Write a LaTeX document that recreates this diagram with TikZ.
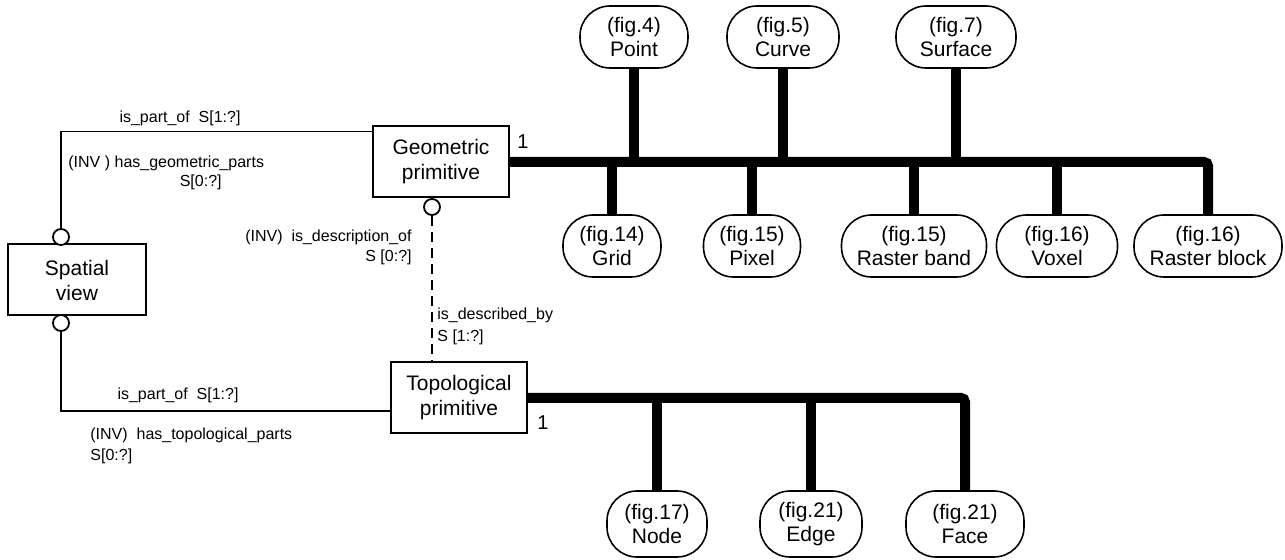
\documentclass[tikz,border=0pt]{standalone}
\usepackage{fontspec}
\setmainfont{Liberation Sans}
\usetikzlibrary{positioning}

\begin{document}
\begin{tikzpicture}[x=0.5pt,y=-0.5pt,
  entity/.style={draw,line width=1pt,align=center,font=\fontsize{10.5}{12.5}\selectfont,minimum height=35.5pt},
  bubble/.style={draw,line width=0.8pt,rounded corners=15pt,align=center,minimum height=31pt,inner sep=1pt,font=\fontsize{10.5}{12}\selectfont},
  ring/.style={draw,circle,line width=0.9pt,minimum size=8pt,inner sep=0pt,fill=white},
  link/.style={line width=0.9pt},
  bus/.style={line width=5pt,rounded corners=2pt},
  lbl/.style={font=\fontsize{8}{9.5}\selectfont,inner sep=0pt},
  card/.style={font=\fontsize{10}{12}\selectfont,inner sep=0pt}]
  \useasboundingbox (0,0) rectangle (1285,560);
  % entities
  \node[entity,minimum width=69pt] (sv) at (77,280) {Spatial\\view};
  \node[entity,minimum width=68pt] (geo) at (441,162) {Geometric\\primitive};
  \node[entity,minimum width=68pt] (topo) at (459,398) {Topological\\primitive};
  \node[ring] (svtop) at (61,237) {};
  \node[ring] (svbot) at (61,323) {};
  \node[ring] (georing) at (432,207) {};
  % geometric subtypes
  \node[bubble,minimum width=54pt] (point) at (634,37) {(fig.4)\\Point};
  \node[bubble,minimum width=56pt] (curve) at (783,37) {(fig.5)\\Curve};
  \node[bubble,minimum width=60pt] (surface) at (956,37) {(fig.7)\\Surface};
  \node[bubble,minimum width=49pt] (grid) at (612,246) {(fig.14)\\Grid};
  \node[bubble,minimum width=48.5pt] (pixel) at (752,246) {(fig.15)\\Pixel};
  \node[bubble,minimum width=72.5pt] (rband) at (914,246) {(fig.15)\\Raster band};
  \node[bubble,minimum width=60.5pt] (voxel) at (1057,246) {(fig.16)\\Voxel};
  \node[bubble,minimum width=74pt] (rblock) at (1208,246) {(fig.16)\\Raster block};
  % topological subtypes
  \node[bubble,minimum width=50pt,minimum height=33pt] (tnode) at (657,524) {(fig.17)\\Node};
  \node[bubble,minimum width=51pt,minimum height=33pt] (edge) at (811,524) {(fig.21)\\Edge};
  \node[bubble,minimum width=59pt,minimum height=33pt] (face) at (965,524) {(fig.21)\\Face};
  % relations
  \draw[link] (svtop.north) |- ([yshift=-3pt]geo.north west);
  \draw[link] (svbot.south) |- ([yshift=-6.5pt]topo.west);
  \draw[link,dashed,dash pattern=on 5pt off 3pt] (georing.south) -- (georing.south |- topo.north);
  \draw[bus] (geo.east) -| (rblock.north);
  \foreach \n in {point,curve,surface} \draw[bus] (\n.south) -- (\n.south |- geo.east);
  \foreach \n in {grid,pixel,rband,voxel} \draw[bus] (\n.north) -- (\n.north |- geo.east);
  \draw[bus] (topo.east) -| (face.north);
  \foreach \n in {tnode,edge} \draw[bus] (\n.north) -- (\n.north |- topo.east);
  % labels
  \node[lbl] (gpart) at (180,118) {is\_part\_of\ \ S[1:?]};
  \node[lbl,anchor=west] (ghas) at (68,163) {(INV ) has\_geometric\_parts};
  \node[lbl,anchor=east] (ghass) at (222,182) {S[0:?]};
  \node[lbl,anchor=east] (desc) at (412,237) {(INV)\ \ is\_description\_of};
  \node[lbl,anchor=east] (descs) at (412,257) {S [0:?]};
  \node[lbl,anchor=west] (dby) at (437,315) {is\_described\_by};
  \node[lbl,anchor=west] (dbys) at (437,337) {S [1:?]};
  \node[lbl] (tpart) at (178,395) {is\_part\_of\ \ S[1:?]};
  \node[lbl,anchor=west] (thas) at (90,435) {(INV)\ \ has\_topological\_parts};
  \node[lbl,anchor=west] (thass) at (90,456) {S[0:?]};
  \node[card] (gone) at (523,142) {1};
  \node[card] (tone) at (543,423) {1};
\end{tikzpicture}
\end{document}
